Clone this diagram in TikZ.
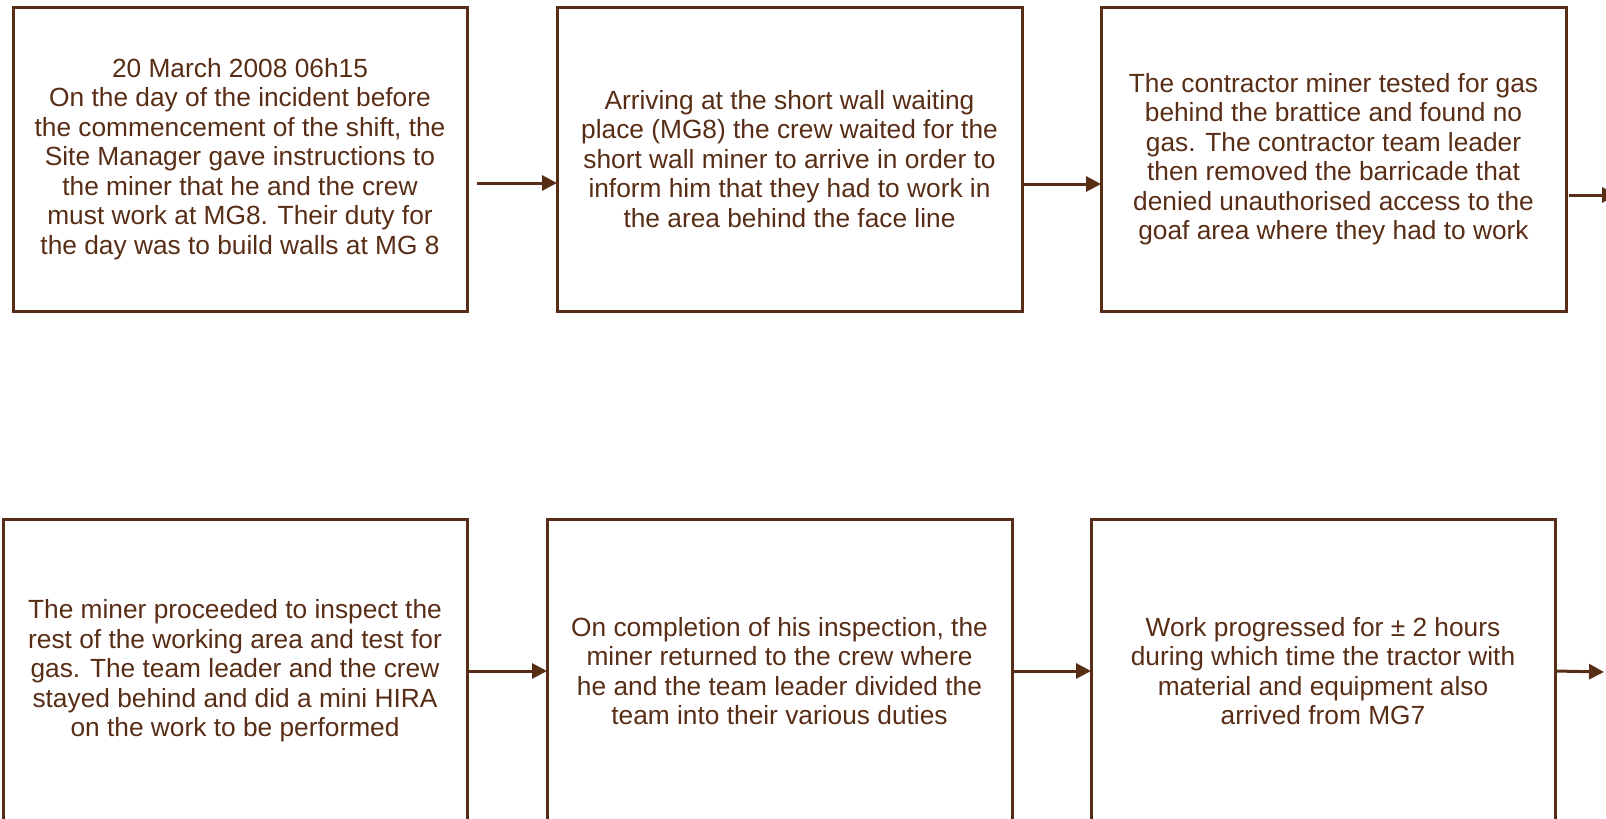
\documentclass[tikz,border=0pt]{standalone}
\usepackage{fontspec}
\setmainfont{Liberation Sans}
\usetikzlibrary{positioning, arrows.meta}
\definecolor{mudbrown}{RGB}{88,45,22}
\tikzset{
x=1pt, y=-1pt, % one unit is one pixel of the source, y going down
event/.style={draw=mudbrown, text=mudbrown, line width=3pt, outer sep=0pt, minimum width=465pt, minimum height=304pt, align=center, font=\fontsize{26.3}{29.5}\selectfont}, % sets the properties for each box
flow/.style={draw=mudbrown, line width=3pt, -{Triangle[length=15pt,width=15pt]}}, % the connecting arrows
}
\begin{document}
\begin{tikzpicture}
    \clip (0,0) rectangle (1606,819);
    \useasboundingbox (0,0) rectangle (1606,819);
    % top row
    \node[event, minimum width=454pt] (report) at (240,159) {20 March 2008 06h15\\On the day of the incident before\\the commencement of the shift, the\\Site Manager gave instructions to\\the miner that he and the crew\\must work at MG8.  Their duty for\\the day was to build walls at MG 8};
    \node[event, right=90pt of report] (waiting) {Arriving at the short wall waiting\\place (MG8) the crew waited for the\\short wall miner to arrive in order to\\inform him that they had to work in\\the area behind the face line};
    \node[event, right=79pt of waiting] (gastest) {The contractor miner tested for gas\\behind the brattice and found no\\gas.  The contractor team leader\\then removed the barricade that\\denied unauthorised access to the\\goaf area where they had to work};
    % bottom row
    \node[event, minimum width=464pt] (inspect) at (235,671) {The miner proceeded to inspect the\\rest of the working area and test for\\gas.  The team leader and the crew\\stayed behind and did a mini HIRA\\on the work to be performed};
    \node[event, right=80pt of inspect] (duties) {On completion of his inspection, the\\miner returned to the crew where\\he and the team leader divided the\\team into their various duties};
    \node[event, minimum width=464pt, right=79pt of duties] (progress) {Work progressed for ± 2 hours\\during which time the tractor with\\material and equipment also\\arrived from MG7};

    \coordinate (exitA) at (1617,195);
    \coordinate (exitB) at (1604,672);

    \draw[flow] ([shift={(10,24)}]report.east) -- ([yshift=-24pt]waiting.west);
    \draw[flow] ([yshift=-25pt]waiting.east) -- ([yshift=-25pt]gastest.west);
    \draw[flow] ([shift={(3,36)}]gastest.east) -- (exitA);
    \draw[flow] (inspect.east) -- (duties.west);
    \draw[flow] (duties.east) -- (progress.west);
    \draw[flow] (progress.east) -- (exitB);
\end{tikzpicture}
\end{document}
